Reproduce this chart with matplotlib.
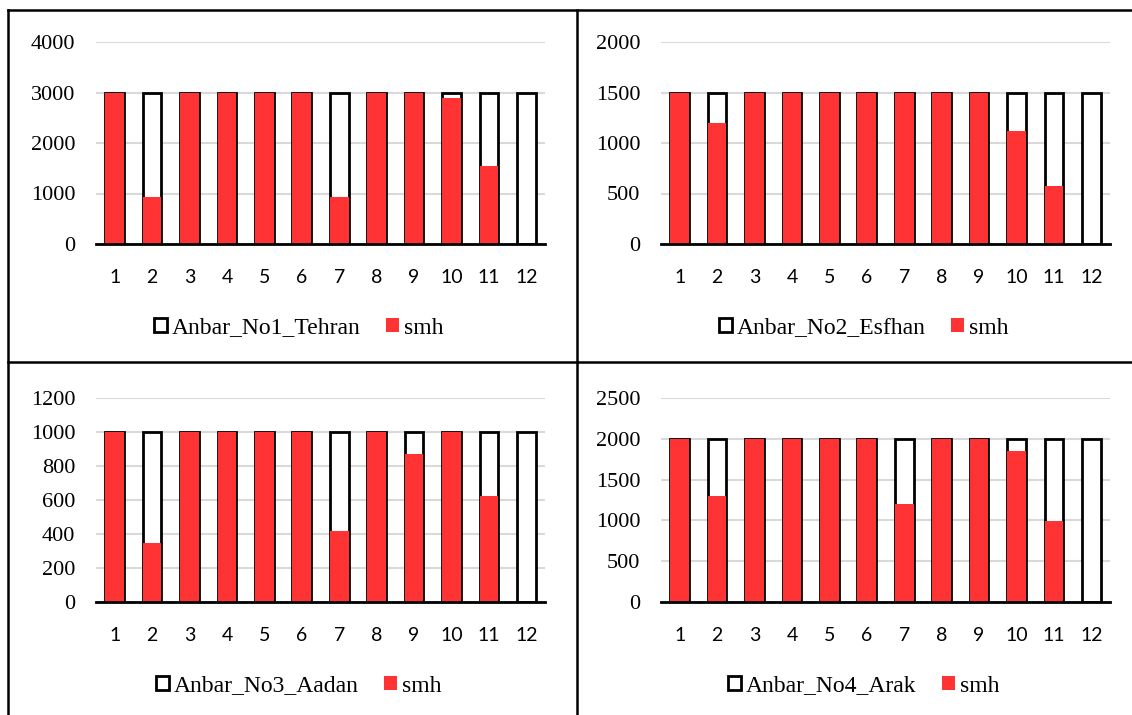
import matplotlib
matplotlib.use("Agg")
import matplotlib.pyplot as plt
from matplotlib.patches import Patch
from matplotlib.lines import Line2D

months = list(range(1, 13))
month_labels = [str(m) for m in months]

tehran_cap = [3000] * 12
tehran_smh = [3000, 935, 3000, 3000, 3000, 3000, 935, 3000, 3000, 2900, 1540, 0]

esfhan_cap = [1500] * 12
esfhan_smh = [1500, 1195, 1500, 1500, 1500, 1500, 1500, 1500, 1500, 1120, 572, 0]

aadan_cap = [1000] * 12
aadan_smh = [1000, 346, 1000, 1000, 1000, 1000, 420, 1000, 872, 1000, 621, 0]

arak_cap = [2000] * 12
arak_smh = [2000, 1298, 2000, 2000, 2000, 2000, 1197, 2000, 2000, 1846, 994, 0]

panels = [
    ("Anbar_No1_Tehran", tehran_cap, tehran_smh, [0, 1000, 2000, 3000, 4000]),
    ("Anbar_No2_Esfhan", esfhan_cap, esfhan_smh, [0, 500, 1000, 1500, 2000]),
    ("Anbar_No3_Aadan", aadan_cap, aadan_smh, [0, 200, 400, 600, 800, 1000, 1200]),
    ("Anbar_No4_Arak", arak_cap, arak_smh, [0, 500, 1000, 1500, 2000, 2500]),
]

RED = "#FF3333"
SERIF = ["Liberation Serif", "DejaVu Serif"]
SANS = ["Lato", "DejaVu Sans"]

W, H = 1132, 715
fig = plt.figure(figsize=(W / 100, H / 100), dpi=100)
fig.patch.set_facecolor("white")

# axes rectangles in pixel units: (left, top, right, bottom)
rects = [
    (96, 42, 545, 244),
    (661, 42, 1110, 244),
    (96, 398, 545, 602),
    (661, 398, 1110, 602),
]

for (name, cap, smh, yticks), (l, t, r, b) in zip(panels, rects):
    ax = fig.add_axes([l / W, 1 - b / H, (r - l) / W, (b - t) / H])
    ax.set_axisbelow(True)
    ax.bar(months, cap, width=0.5, facecolor="white", edgecolor="black",
           linewidth=2.0, zorder=2)
    ax.bar(months, smh, width=0.5, facecolor=RED, edgecolor="none",
           linewidth=0, zorder=3)
    ax.set_xlim(0.5, 12.5)
    ax.set_ylim(0, yticks[-1])
    ax.set_yticks(yticks)
    ax.set_yticklabels([str(v) for v in yticks], fontfamily=SERIF, fontsize=16)
    ax.set_xticks(months)
    ax.set_xticklabels(month_labels, fontfamily=SANS, fontsize=14)
    ax.tick_params(axis="both", length=0)
    ax.tick_params(axis="y", pad=15)
    ax.tick_params(axis="x", pad=18)
    ax.yaxis.grid(True, color="#d9d9d9", linewidth=1.5)
    for side in ("top", "right", "left"):
        ax.spines[side].set_visible(False)
    ax.spines["bottom"].set_color("black")
    ax.spines["bottom"].set_linewidth(2.0)
    ax.spines["bottom"].set_zorder(4)

    handles = [
        Patch(facecolor="white", edgecolor="black", linewidth=2.0),
        Patch(facecolor=RED, edgecolor="none"),
    ]
    cx = ((l + r) / 2 - 22 - l) / (r - l)
    cy = -(84 / (b - t))
    ax.legend(handles, [name, "smh"], loc="center", ncol=2,
              bbox_to_anchor=(cx, cy), frameon=False,
              prop={"family": SERIF, "size": 17}, handlelength=0.55,
              handleheight=0.55, handletextpad=0.2, columnspacing=1.1)

# table-like frame lines around the four panels
frame = dict(color="black", linewidth=1.8, transform=fig.transFigure)
fig.add_artist(Line2D([8 / W, 1], [1 - 10 / H, 1 - 10 / H], **frame))
fig.add_artist(Line2D([8 / W, 8 / W], [1 - 10 / H, 0], **frame))
fig.add_artist(Line2D([577 / W, 577 / W], [1 - 10 / H, 0], **frame))
fig.add_artist(Line2D([8 / W, 1], [1 - 362 / H, 1 - 362 / H], **frame))

fig.savefig("out.png", dpi=100, facecolor="white")
